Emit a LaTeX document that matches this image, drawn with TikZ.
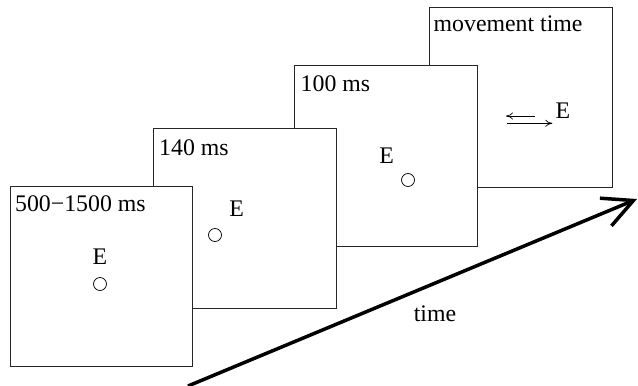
\documentclass[tikz,border=0pt]{standalone}
\usepackage{fontspec}
\setmainfont{Liberation Serif}
\usetikzlibrary{arrows.meta}
\begin{document}
\begin{tikzpicture}[x=1pt,y=-1pt,
  frame/.style={draw=black!85,line width=0.8pt,fill=white,inner sep=0pt,outer sep=0pt,anchor=north west},
  lbl/.style={anchor=base west,inner sep=0pt,font=\fontsize{23.8}{28}\selectfont},
  elet/.style={anchor=base,inner sep=0pt,font=\fontsize{23.8}{28}\selectfont},
  fix/.style={circle,draw=black,line width=0.7pt,minimum size=13pt,inner sep=0pt},
  small/.style={line width=0.7pt,-{To[length=7pt,width=7pt]}},
  timearrow/.style={line width=3.5pt,-{Straight Barb[length=30pt,width=30pt,line width=3.5pt]}}]
\useasboundingbox (0,0) rectangle (638,386);
% frames, back to front
\node[frame,minimum width=183.5pt,minimum height=180pt] (b4) at (429.3,7) {};
\node[frame,minimum width=183pt,minimum height=180.5pt] (b3) at (294.8,65.5) {};
\node[frame,minimum width=183pt,minimum height=180pt] (b2) at (153,128) {};
\node[frame,minimum width=181.3pt,minimum height=180.5pt] (b1) at (10.7,186) {};
% frame 4
\node[lbl] (l4) at (433.5,31.7) {movement time};
\node[elet] (e4) at (563,118.3) {E};
\coordinate (a1s) at (535,116);
\coordinate (a1e) at (506,116);
\coordinate (a2s) at (507,123.3);
\coordinate (a2e) at (552.3,123.3);
\draw[small] (a1s) -- (a1e);
\draw[small] (a2s) -- (a2e);
% frame 3
\node[lbl] (l3) at (300.5,91.7) {100 ms};
\node[elet] (e3) at (386.7,163.3) {E};
\node[fix] (c3) at (408,180) {};
% frame 2
\node[lbl] (l2) at (159,155) {140 ms};
\node[elet] (e2) at (236.7,216.7) {E};
\node[fix] (c2) at (215,235) {};
% frame 1
\node[lbl] (l1) at (15,211) {500−1500 ms};
\node[elet] (e1) at (100,264) {E};
\node[fix] (c1) at (100,284) {};
% time arrow
\coordinate (t0) at (188,386);
\coordinate (t1) at (637,199);
\draw[timearrow] (t0) -- (t1);
\node[elet] (tl) at (435,321.7) {time};
\end{tikzpicture}
\end{document}
